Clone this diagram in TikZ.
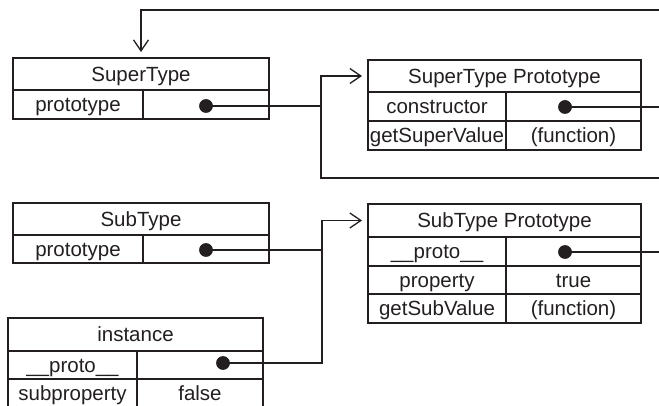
\documentclass[tikz,border=0pt]{standalone}
\usepackage{fontspec}
\setmainfont{Liberation Sans}
\usetikzlibrary{arrows.meta}
\definecolor{ink}{HTML}{231F20}
\begin{document}
\begin{tikzpicture}[x=1pt,y=-1pt,
  cell/.style={draw=ink, line width=1.3pt, rectangle, inner sep=0pt, outer sep=0pt,
    font=\fontsize{20.5}{24}\selectfont, text height=14.7pt, text depth=0pt, text=ink},
  dotnode/.style={circle, fill=ink, inner sep=0pt, minimum size=13.5pt},
  link/.style={draw=ink, line width=1.3pt, line join=miter},
  ptr/.style={link, shorten >=6pt, -{Straight Barb[length=11pt,width=15pt,line width=1.3pt]}}
]
\useasboundingbox (0,0) rectangle (659,406);

% SuperType
\node[cell, minimum width=256pt, minimum height=32pt] (A) at (141,74) {SuperType};
\node[cell, minimum width=130pt, minimum height=29pt] (Ap) at (78,104.5) {prototype};
\node[cell, minimum width=126pt, minimum height=29pt] (Av) at (206,104.5) {};

% SuperType Prototype
\node[cell, minimum width=273pt, minimum height=32pt] (B) at (504.5,76) {SuperType Prototype};
\node[cell, minimum width=138pt, minimum height=29pt] (Bc) at (437,106.5) {constructor};
\node[cell, minimum width=135pt, minimum height=29pt] (Bcv) at (573.5,106.5) {};
\node[cell, minimum width=138pt, minimum height=29pt] (Bg) at (437,135.5) {getSuperValue};
\node[cell, minimum width=135pt, minimum height=29pt] (Bgv) at (573.5,135.5) {(function)};

% SubType
\node[cell, minimum width=256pt, minimum height=32pt] (C) at (141,219) {SubType};
\node[cell, minimum width=130pt, minimum height=28pt] (Cp) at (78,249) {prototype};
\node[cell, minimum width=126pt, minimum height=28pt] (Cv) at (206,249) {};

% SubType Prototype
\node[cell, minimum width=273pt, minimum height=33pt] (D) at (504.5,220.5) {SubType Prototype};
\node[cell, minimum width=138pt, minimum height=29pt] (Dp) at (437,251.5) {\_\_proto\_\_};
\node[cell, minimum width=135pt, minimum height=29pt] (Dpv) at (573.5,251.5) {};
\node[cell, minimum width=138pt, minimum height=28pt] (Dr) at (437,280) {property};
\node[cell, minimum width=135pt, minimum height=28pt] (Drv) at (573.5,280) {true};
\node[cell, minimum width=138pt, minimum height=29pt] (Dg) at (437,308.5) {getSubValue};
\node[cell, minimum width=135pt, minimum height=29pt] (Dgv) at (573.5,308.5) {(function)};

% instance
\node[cell, minimum width=255pt, minimum height=33pt] (E) at (135.5,334.5) {instance};
\node[cell, minimum width=129pt, minimum height=28pt] (Ep) at (72.5,365) {\_\_proto\_\_};
\node[cell, minimum width=126pt, minimum height=28pt] (Epv) at (200,365) {};
\node[cell, minimum width=129pt, minimum height=29pt] (Es) at (72.5,393.5) {subproperty};
\node[cell, minimum width=126pt, minimum height=29pt] (Esv) at (200,393.5) {false};

% dots
\node[dotnode] (dA) at (206,106) {};
\node[dotnode] (dB) at (565,107) {};
\node[dotnode] (dC) at (206,250) {};
\node[dotnode] (dD) at (565,252) {};
\node[dotnode] (dE) at (223,363) {};

% junction coordinates
\coordinate (kA) at (321,106);
\coordinate (kAtop) at (321,76);
\coordinate (kAbot) at (321,178);
\coordinate (offB) at (665,107);
\coordinate (offTop) at (665,10);
\coordinate (topL) at (141,10);
\coordinate (offD) at (665,252);
\coordinate (offD2) at (665,178);
\coordinate (kC) at (322,250);
\coordinate (kE) at (322,363);
\coordinate (kD) at (322,220.5);

% connectors
\draw[link] (dB.center) -- (offB);
\draw[ptr] (offTop) -- (topL) -- (A.north);
\draw[link] (dA.center) -- (kA);
\draw[link] (dD.center) -- (offD);
\draw[ptr] (offD2) -- (kAbot) -- (kAtop) -- (B.west);
\draw[link] (dC.center) -- (kC);
\draw[ptr] (dE.center) -- (kE) -- (kD) -- (D.west);

% redraw dots on top
\fill[ink] (dA) circle (6.75pt);
\fill[ink] (dB) circle (6.75pt);
\fill[ink] (dC) circle (6.75pt);
\fill[ink] (dD) circle (6.75pt);
\fill[ink] (dE) circle (6.75pt);
\end{tikzpicture}
\end{document}
